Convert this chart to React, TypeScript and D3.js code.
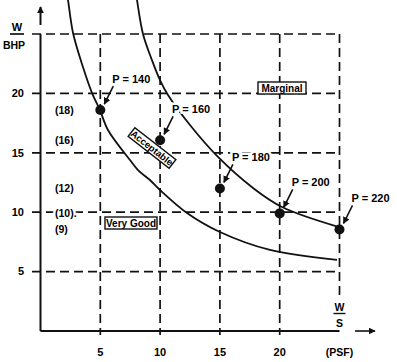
import React from 'react';
import * as d3 from 'd3';

const W = 397;
const H = 362;

// axis ticks (W/S in PSF, W/BHP)
const xTicks = [5, 10, 15, 20];
const yTicks = [5, 10, 15, 20];
const xMax = 25;
const yMax = 25;

// design points, one per power loading P
const pressures = [140, 160, 180, 200, 220];
const pointX = [5, 10, 15, 20, 25];
const pointY = [18.6, 16.05, 12.0, 9.9, 8.55];
const sideLabels = ['(18)', '(16)', '(12)', '(10).', '(9)'];

// boundary curves
const outerCurve: [number, number][] = [
  [8.0, 28.3], [8.07, 27.86], [8.57, 25.0], [9.32, 22.8], [10.0, 21.1], [10.66, 19.87],
  [12.5, 17.34], [14.84, 14.65], [17.77, 12.04], [20.19, 10.44], [24.96, 8.75],
];
const innerCurve: [number, number][] = [
  [2.22, 28.3], [2.3, 27.86], [2.72, 25.08], [3.55, 22.22], [4.31, 20.03], [4.97, 18.6],
  [5.64, 16.92], [7.48, 14.39], [8.15, 13.55], [9.15, 12.71], [9.99, 11.87], [12.25, 9.93],
  [15.0, 8.33], [19.19, 6.82], [24.79, 5.98],
];

const FONT = '"Liberation Sans", Arial, Helvetica, sans-serif';

const App = () => {
  const x = d3.scaleLinear([0, xMax], [40.5, 339.5]);
  const y = d3.scaleLinear([0, yMax], [331, 34]);

  const line = d3.line<[number, number]>()
    .x(d => x(d[0]))
    .y(d => y(d[1]))
    .curve(d3.curveCatmullRom);

  const dash = { stroke: '#111', strokeWidth: 1.7, strokeDasharray: '9 5', fill: 'none' };
  const halo = { stroke: '#fff', strokeWidth: 5, paintOrder: 'stroke' as const };

  const gridY = [...yTicks, yMax];
  const gridX = [...xTicks];

  return (
    <svg width={W} height={H} style={{ position: 'absolute', left: 0, top: 0, background: '#fff' }}
      fontFamily={FONT} fontWeight="bold">
      <defs>
        <marker id="ah" viewBox="0 0 10 10" refX="9" refY="5" markerWidth="7" markerHeight="7"
          markerUnits="userSpaceOnUse" orient="auto">
          <path d="M0,0 L10,5 L0,10 z" fill="#111" />
        </marker>
      </defs>

      {/* dashed grid */}
      {gridY.map(v => (
        <line key={'h' + v} x1={32} x2={x(xMax)} y1={y(v)} y2={y(v)} {...dash} />
      ))}
      {gridX.map(v => (
        <line key={'v' + v} x1={x(v)} x2={x(v)} y1={y(yMax)} y2={y(0) + 4} {...dash} />
      ))}
      <line x1={x(xMax)} x2={x(xMax)} y1={y(yMax)} y2={300} {...dash} />

      {/* axes */}
      <line x1={x(0)} x2={x(0)} y1={y(yMax)} y2={y(0)} stroke="#111" strokeWidth={2} />
      <line x1={x(0)} x2={x(xMax)} y1={y(0)} y2={y(0)} stroke="#111" strokeWidth={2} />
      <line x1={x(0)} x2={x(0)} y1={25} y2={7} stroke="#111" strokeWidth={2} markerEnd="url(#ah)" />
      <line x1={355} x2={375} y1={y(0)} y2={y(0)} stroke="#111" strokeWidth={1.6} markerEnd="url(#ah)" />

      {/* tick labels */}
      {yTicks.map(v => (
        <text key={'yl' + v} x={24} y={y(v)} dy="0.35em" textAnchor="end" fontSize={11}>{v}</text>
      ))}
      {xTicks.map(v => (
        <text key={'xl' + v} x={x(v)} y={352} dy="0.35em" textAnchor="middle" fontSize={11}>{v}</text>
      ))}
      <text x={x(xMax)} y={352} dy="0.35em" textAnchor="middle" fontSize={10.5}>(PSF)</text>
      <text x={17} y={31} textAnchor="middle" fontSize={11}>W</text>
      <line x1={10} x2={24} y1={34} y2={34} stroke="#111" strokeWidth={1.7} />
      <text x={14} y={45} dy="0.35em" textAnchor="middle" fontSize={10.5}>BHP</text>
      <text x={x(xMax)} y={311} textAnchor="middle" fontSize={10.5}>W</text>
      <line x1={x(xMax) - 6} x2={x(xMax) + 6} y1={313.5} y2={313.5} stroke="#111" strokeWidth={1.4} />
      <text x={x(xMax)} y={323} dy="0.35em" textAnchor="middle" fontSize={10.5}>S</text>

      {/* curves */}
      <path d={line(outerCurve) ?? ''} fill="none" stroke="#111" strokeWidth={1.8} />
      <path d={line(innerCurve) ?? ''} fill="none" stroke="#111" strokeWidth={1.8} />

      {/* side labels */}
      {sideLabels.map((s, i) => (
        <text key={'s' + i} x={55} y={y(pointY[i])} dy="0.35em" fontSize={10.5} {...halo}>{s}</text>
      ))}

      {/* points + callouts */}
      {pressures.map((p, i) => {
        const cx = x(pointX[i]);
        const cy = y(pointY[i]);
        return (
          <g key={'p' + p}>
            <text x={cx + 12} y={cy - 31} dy="0.35em" fontSize={11} {...halo}>{`P = ${p}`}</text>
            <line x1={cx + 13} y1={cy - 24} x2={cx + 4} y2={cy - 6} stroke="#111" strokeWidth={1.6}
              markerEnd="url(#ah)" />
            <circle cx={cx} cy={cy} r={5} fill="#111" />
          </g>
        );
      })}

      {/* region labels */}
      <g transform="translate(282,88)">
        <rect x={-24} y={-6} width={48} height={12} fill="#fff" stroke="#111" strokeWidth={1.4} />
        <text y={0} dy="0.36em" textAnchor="middle" fontSize={10}>Marginal</text>
      </g>
      <g transform="translate(131,223)">
        <rect x={-26} y={-6} width={52} height={12} fill="#fff" stroke="#111" strokeWidth={1.4} />
        <text y={0} dy="0.36em" textAnchor="middle" fontSize={10}>Very Good</text>
      </g>
      <g transform="translate(152,148) rotate(38)">
        <rect x={-26} y={-5.5} width={52} height={11} fill="#fff" stroke="#111" strokeWidth={1.4} />
        <text y={0} dy="0.36em" textAnchor="middle" fontSize={9.5}>Acceptable</text>
      </g>
    </svg>
  );
};

export default App;
